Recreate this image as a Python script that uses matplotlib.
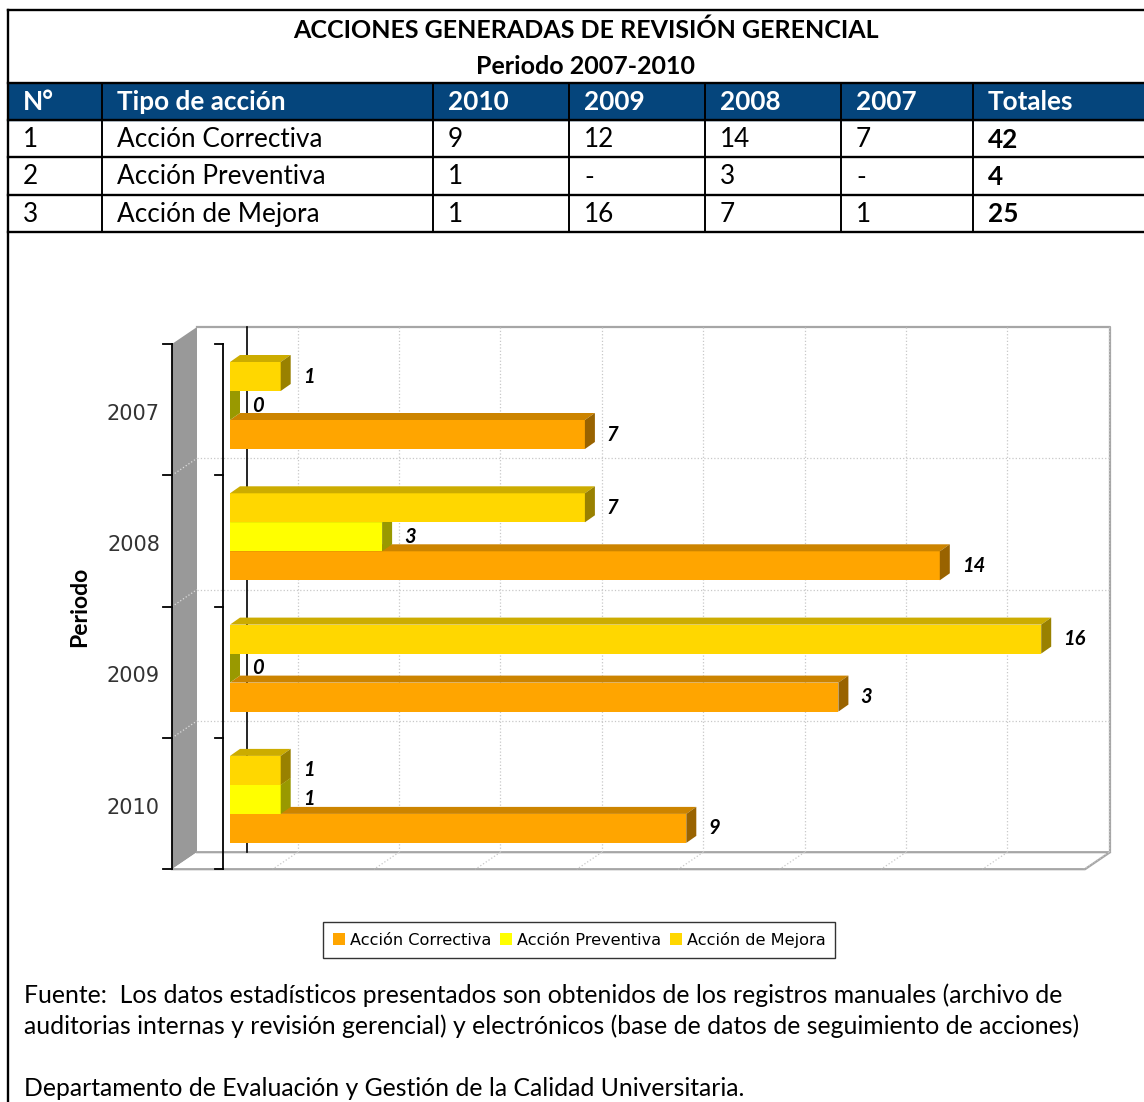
import matplotlib
matplotlib.use('Agg')
import matplotlib.pyplot as plt
from matplotlib.patches import Polygon, Rectangle, Patch

plt.rcParams['font.family'] = ['Lato', 'DejaVu Sans']

# table data
title_1 = 'ACCIONES GENERADAS DE REVISIÓN GERENCIAL'
title_2 = 'Periodo 2007-2010'
header = ['N°', 'Tipo de acción', '2010', '2009', '2008', '2007', 'Totales']
row_num = ['1', '2', '3']
tipos = ['Acción Correctiva', 'Acción Preventiva', 'Acción de Mejora']
val_2010 = ['9', '1', '1']
val_2009 = ['12', '-', '16']
val_2008 = ['14', '3', '7']
val_2007 = ['7', '-', '1']
totales = ['42', '4', '25']

# chart data (bar lengths as drawn, labels as printed on the chart)
years = ['2007', '2008', '2009', '2010']
correctiva = [7, 14, 12, 9]
correctiva_lbl = ['7', '14', '3', '9']
preventiva = [0, 3, 0, 1]
mejora = [1, 7, 16, 1]

fuente_1 = 'Fuente:  Los datos estadísticos presentados son obtenidos de los registros manuales (archivo de'
fuente_2 = 'auditorias internas y revisión gerencial) y electrónicos (base de datos de seguimiento de acciones)'
depto = 'Departamento de Evaluación y Gestión de la Calidad Universitaria.'

W, H = 1144, 1102
fig = plt.figure(figsize=(W / 100, H / 100), dpi=100)

# ---- page / table layer (pixel coordinates) ----
page = fig.add_axes([0, 0, 1, 1])
page.set_xlim(0, W)
page.set_ylim(H, 0)
page.axis('off')

blue = '#05457C'
col_x = [8, 102, 433, 569, 705, 841, 973, W]
row_y = [83, 120, 157, 195, 232]

page.add_patch(Rectangle((col_x[0], row_y[0]), W - col_x[0], row_y[1] - row_y[0], color=blue, zorder=0))
for y in [10] + row_y:
    page.plot([col_x[0], W], [y, y], color='black', lw=1.7)
for x in col_x[1:-1]:
    page.plot([x, x], [row_y[0], row_y[-1]], color='black', lw=1.4)
page.plot([col_x[0], col_x[0]], [10, H], color='black', lw=1.7)

page.text(586, 30, title_1, ha='center', va='center', fontsize=18, fontweight='bold')
page.text(586, 66, title_2, ha='center', va='center', fontsize=18, fontweight='bold')

for j, h in enumerate(header):
    page.text(col_x[j] + 15, 102, h, ha='left', va='center', fontsize=18.8, fontweight='bold', color='white')

columns = [row_num, tipos, val_2010, val_2009, val_2008, val_2007, totales]
for r in range(len(row_num)):
    yc = (row_y[r + 1] + row_y[r + 2]) / 2 + 1
    for j, col in enumerate(columns):
        page.text(col_x[j] + 15, yc, col[r], ha='left', va='center', fontsize=18.8,
                  fontweight='bold' if j == len(columns) - 1 else 'normal')

page.text(80, 607, 'Periodo', rotation=90, ha='center', va='center', fontsize=16.5, fontweight='bold')

page.text(24, 995, fuente_1, ha='left', va='center', fontsize=17.8)
page.text(24, 1026, fuente_2, ha='left', va='center', fontsize=17.8)
page.text(24, 1088, depto, ha='left', va='center', fontsize=17.8)

# ---- chart layer ----
XU, YU = 50.7, 131.3      # pixels per value unit / per category band
X0, Y0 = 230, 327         # pixel of value 0 and top of back wall
L, R, T, B = 150, 1130, 315, 885
ax = fig.add_axes([L / W, 1 - B / H, (R - L) / W, (B - T) / H])
ax.set_xlim((L - X0) / XU, (R - X0) / XU)
ax.set_ylim((B - Y0) / YU, (T - Y0) / YU)
ax.axis('off')

n = len(years)
wx0, wx1 = (197 - X0) / XU, (1110 - X0) / XU
dxw, dyw = 25 / XU, 17 / YU
zb = (247 - X0) / XU
edge = '#a6a6a6'

ax.add_patch(Rectangle((wx0, 0), wx1 - wx0, n, fc='white', ec='none', zorder=0))
ax.add_patch(Polygon([(wx0 - dxw, dyw), (wx0, 0), (wx0, n), (wx0 - dxw, n + dyw)],
                     closed=True, fc='#999999', ec='none', zorder=0))
ax.add_patch(Polygon([(wx0, n), (wx1, n), (wx1 - dxw, n + dyw), (wx0 - dxw, n + dyw)],
                     closed=True, fc='white', ec='none', zorder=0))
ax.plot([wx0, wx1, wx1], [0, 0, n], color=edge, lw=1.6, zorder=1)
ax.plot([wx0, wx1, wx1 - dxw, wx0 - dxw], [n, n, n + dyw, n + dyw], color=edge, lw=1.6, zorder=1)

# grid on back wall, floor and side wall
gx = zb + 1
while gx < wx1:
    ax.plot([gx, gx], [0, n], ls=':', color='#c8c8c8', lw=0.9, zorder=1)
    ax.plot([gx, gx - dxw], [n, n + dyw], ls=':', color='#c8c8c8', lw=0.9, zorder=1)
    gx += 2
for u in range(1, n):
    ax.plot([wx0, wx1], [u, u], ls=':', color='#c8c8c8', lw=0.9, zorder=1)
    ax.plot([wx0 - dxw, wx0], [u + dyw, u], ls=':', color='#dddddd', lw=0.9, zorder=1)

ax.plot([zb, zb], [0, n], color='black', lw=1.2, zorder=1)

# category brackets
xo, xi = wx0 - dxw, (223 - X0) / XU
for xb, tl in [(xo, 9 / XU), (xi, 8 / XU)]:
    ax.plot([xb, xb], [dyw, n + dyw], color='black', lw=1.3, zorder=2)
    for k in range(n + 1):
        ax.plot([xb - tl, xb], [k + dyw, k + dyw], color='black', lw=1.3, zorder=2)

for i, yr in enumerate(years):
    ax.text((160 - X0) / XU, i + 0.5 + dyw + 4 / YU, yr, ha='right', va='center', fontsize=15,
            color='#333333', family='DejaVu Sans')

# 3D bars
bh = 29 / YU
ddx, ddy = 10 / XU, 7 / YU
g0 = (362 - Y0) / YU
series = [
    (correctiva, correctiva_lbl, 2, ('#FFA500', '#CC8400', '#996300')),
    (preventiva, [str(v) for v in preventiva], 1, ('#FFFF00', '#CCCC00', '#999900')),
    (mejora, [str(v) for v in mejora], 0, ('#FFD700', '#CCAC00', '#998100')),
]
for vals, lbls, slot, (cf, ct, cs) in series:
    for i, v in enumerate(vals):
        yt = i + g0 + slot * bh
        ax.add_patch(Rectangle((0, yt), v, bh, fc=cf, ec='none', zorder=3))
        ax.add_patch(Polygon([(0, yt), (v, yt), (v + ddx, yt - ddy), (ddx, yt - ddy)],
                             closed=True, fc=ct, ec='none', zorder=3))
        ax.add_patch(Polygon([(v, yt), (v + ddx, yt - ddy), (v + ddx, yt + bh - ddy), (v, yt + bh)],
                             closed=True, fc=cs, ec='none', zorder=3))
        ax.text(v + ddx + 12 / XU, yt + bh / 2, lbls[i], ha='left', va='center', fontsize=14.5,
                fontweight='bold', style='italic', zorder=4)

handles = [Patch(fc='#FFA500'), Patch(fc='#FFFF00'), Patch(fc='#FFD700')]
leg = fig.legend(handles, tipos, loc='center', bbox_to_anchor=(579 / W, 1 - 940 / H), ncol=3,
                 frameon=True, fancybox=False, edgecolor='black', handlelength=0.75, handleheight=0.75,
                 handletextpad=0.3, columnspacing=0.55, borderpad=0.6,
                 prop={'family': 'DejaVu Sans', 'size': 11.6})
leg.get_frame().set_linewidth(1.0)

fig.savefig('out.png', dpi=100)
